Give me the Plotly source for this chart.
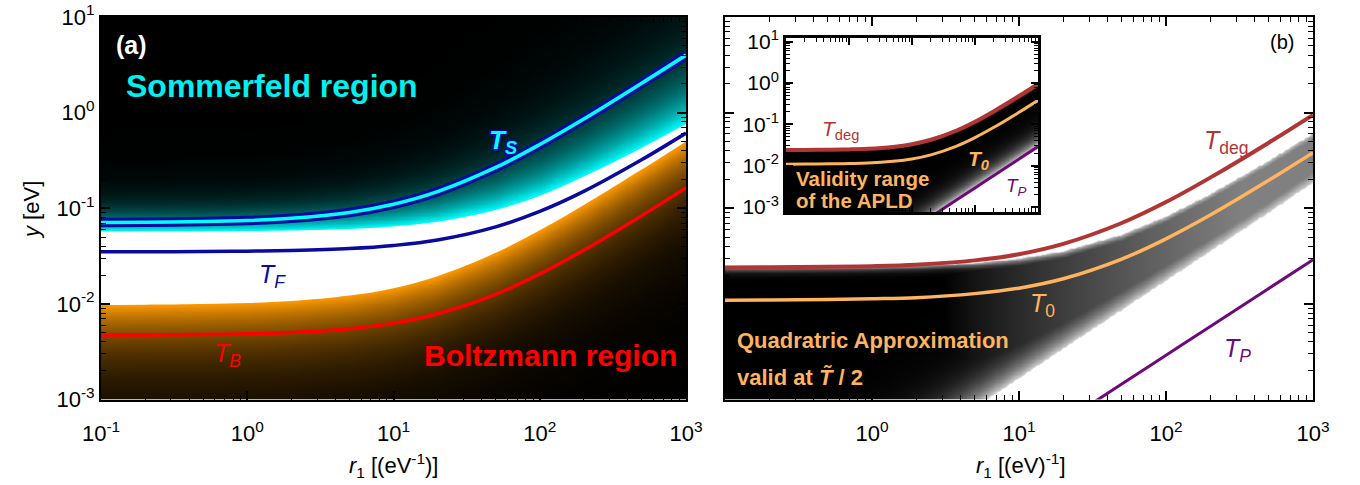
import numpy as np
import plotly.graph_objects as go

FONT = "Liberation Sans, Arial, Helvetica, sans-serif"

# ---- data -------------------------------------------------------------
r1 = [0.1, 0.2, 0.5, 1, 2, 5, 10, 20, 50, 100, 200, 500, 1000]

# panel (a): characteristic temperatures [eV]
T_S = [0.0710, 0.0714, 0.0726, 0.0745, 0.0785, 0.0903, 0.110, 0.149, 0.267, 0.464, 0.857, 2.04, 4.0]
T_F = [0.0350, 0.0351, 0.0353, 0.0356, 0.0362, 0.0379, 0.0408, 0.0465, 0.0638, 0.0926, 0.150, 0.323, 0.611]
T_B = [0.00472, 0.00473, 0.00478, 0.00486, 0.00502, 0.00550, 0.00629, 0.00788, 0.0126, 0.0206, 0.0365, 0.0842, 0.164]
# edges of the Sommerfeld (upper) and Boltzmann (lower) regions
sommerfeld_edge = [0.0571, 0.0571, 0.0573, 0.0577, 0.0585, 0.0607, 0.0645, 0.0722, 0.0960, 0.135, 0.215, 0.430, 0.760]
boltzmann_edge = [0.00975, 0.00980, 0.00995, 0.0102, 0.0107, 0.0122, 0.0146, 0.0195, 0.0342, 0.0587, 0.108, 0.255, 0.50]

# panel (b)
T_deg = [0.0240, 0.0241, 0.0244, 0.0248, 0.0257, 0.0285, 0.0331, 0.0424, 0.0701, 0.116, 0.209, 0.485, 0.947]
T_0 = [0.0109, 0.0110, 0.0111, 0.0113, 0.0116, 0.0128, 0.0146, 0.0183, 0.0294, 0.0479, 0.0849, 0.196, 0.381]
T_P = [2.9e-6, 5.8e-6, 1.45e-5, 2.9e-5, 5.8e-5, 1.45e-4, 2.9e-4, 5.8e-4, 1.45e-3, 2.9e-3, 5.8e-3, 0.0145, 0.029]
# band where the quadratic approximation holds
quad_upper = [0.0240, 0.0240, 0.0242, 0.0245, 0.0251, 0.0268, 0.0297, 0.0355, 0.0529, 0.0819, 0.140, 0.314, 0.604]
quad_lower = [1.5e-5, 3.1e-5, 7.8e-5, 1.6e-4, 3.2e-4, 8.2e-4, 1.67e-3, 3.4e-3, 8.6e-3, 0.0175, 0.0355, 0.090, 0.185]

x_tickvals = [0.1, 1, 10, 100, 1000]
x_ticktext_a = ["10<sup>-1</sup>", "10<sup>0</sup>", "10<sup>1</sup>", "10<sup>2</sup>", "10<sup>3</sup>"]
x_ticktext_b = ["", "10<sup>0</sup>", "10<sup>1</sup>", "10<sup>2</sup>", "10<sup>3</sup>"]
y_tickvals = [1e-3, 1e-2, 1e-1, 1, 10]
y_ticktext = ["10<sup>-3</sup>", "10<sup>-2</sup>", "10<sup>-1</sup>", "10<sup>0</sup>", "10<sup>1</sup>"]

# ---- colours ----------------------------------------------------------
DARK_BLUE = "#0a0a9c"
CYAN = "#00ffff"
RED = "#ff0000"
BRICK = "#b03535"
LIGHT_ORANGE = "#ffb45f"
PURPLE = "#6e0a78"


def on_grid(xq, xs, ys):
    """log-log lookup of a tabulated curve at the heatmap columns"""
    return np.interp(np.log10(xq), np.log10(xs), np.log10(ys))


# ---- panel (a) shading --------------------------------------------------
gx = np.logspace(-1, 3, 560)
gy = np.logspace(-3, 1, 480)
LX = np.log10(gx)[None, :]
LY = np.log10(gy)[:, None]

lW = on_grid(gx, r1, sommerfeld_edge)[None, :]
lO = on_grid(gx, r1, boltzmann_edge)[None, :]
lS = on_grid(gx, r1, T_S)[None, :]

u = LY - lW                      # decades above the Sommerfeld edge
d = lO - LY                      # decades below the Boltzmann edge
glow = 0.12 + 0.45 * (lS - lW)
cyan_part = np.exp(-np.clip(u, 0, None) / glow)
orange_part = -np.exp(-np.clip(d, 0, None) / 0.45)
# the white band in between is painted by a filled trace on top
za = np.where(LY > 0.5 * (lW + lO), cyan_part, orange_part)

scale_a = [[0.0, "rgb(255,155,0)"], [0.5, "rgb(0,0,0)"], [1.0, "rgb(0,255,255)"]]

# ---- panel (b) shading --------------------------------------------------
lU = on_grid(gx, r1, quad_upper)[None, :]
lL = on_grid(gx, r1, quad_lower)[None, :]
d_top = lU - LY
d_bot = LY - lL
base = 0.5 * np.clip((LX - 0.5) / 2.0, 0, 1) ** 0.8
wt = 0.03 + 0.1 * np.clip((LX - 0.5) / 2.5, 0, 1)
zb = np.maximum.reduce([base + 0 * LY,
                        0.82 * np.exp(-d_bot / 0.22),
                        0.78 * np.exp(-d_top / wt)])
zb = np.where((d_top > 0) & (d_bot > 0), zb, np.nan)

# ---- inset shading ------------------------------------------------------
gxi = np.logspace(-1, 3, 320)
gyi = np.logspace(-3.2, 1.1, 260)
LXI = np.log10(gxi)[None, :]
LYI = np.log10(gyi)[:, None]
lD = on_grid(gxi, r1, T_deg)[None, :]
lP = on_grid(gxi, r1, T_P)[None, :]
di_top = lD - LYI
di_p = LYI - lP
zi = np.maximum(0.9 * np.exp(-di_p / 0.22),
                0.7 * np.exp(-di_top / 0.04) * np.clip((LXI - 1) / 1.5, 0, 1))
zi = np.where((di_top > 0) & (di_p > 0), zi, np.nan)

grey = [[0, "rgb(0,0,0)"], [1, "rgb(255,255,255)"]]

fig = go.Figure()

fig.add_trace(go.Heatmap(x=gx, y=gy, z=za.astype(np.float32), colorscale=scale_a, zmin=-1, zmax=1,
                         showscale=False, hoverinfo="skip", xaxis="x", yaxis="y"))
fig.add_trace(go.Heatmap(x=gx, y=gy, z=zb.astype(np.float32), colorscale=grey, zmin=0, zmax=1,
                         showscale=False, hoverinfo="skip", xaxis="x2", yaxis="y2"))
fig.add_trace(go.Heatmap(x=gxi, y=gyi, z=zi.astype(np.float32), colorscale=grey, zmin=0, zmax=1,
                         showscale=False, hoverinfo="skip", xaxis="x3", yaxis="y3"))

# white band between the two regions of panel (a)
fig.add_trace(go.Scatter(x=r1, y=boltzmann_edge, mode="lines", hoverinfo="skip", showlegend=False,
                         line=dict(width=0, shape="spline", color="white"), xaxis="x", yaxis="y"))
fig.add_trace(go.Scatter(x=r1, y=sommerfeld_edge, mode="lines", hoverinfo="skip", showlegend=False,
                         fill="tonexty", fillcolor="white",
                         line=dict(width=0, shape="spline", color="white"), xaxis="x", yaxis="y"))


def curve(y, color, width, xa, ya):
    fig.add_trace(go.Scatter(x=r1, y=y, mode="lines", hoverinfo="skip", showlegend=False,
                             line=dict(color=color, width=width, shape="spline", smoothing=1.0),
                             xaxis=xa, yaxis=ya))


# panel (a) curves
curve(T_B, RED, 3.5, "x", "y")
curve(T_F, DARK_BLUE, 3.5, "x", "y")
curve(T_S, DARK_BLUE, 9.5, "x", "y")
curve(T_S, CYAN, 3.5, "x", "y")
# panel (b) curves
curve(T_P, PURPLE, 3, "x2", "y2")
curve(T_0, LIGHT_ORANGE, 3.5, "x2", "y2")
curve(T_deg, BRICK, 4, "x2", "y2")
# inset curves
curve(T_P, PURPLE, 3, "x3", "y3")
curve(T_0, LIGHT_ORANGE, 3, "x3", "y3")
curve(T_deg, BRICK, 4, "x3", "y3")


def minor_vals(lo, hi):
    return [k * 10.0 ** e for e in range(lo, hi) for k in range(2, 10)]


def log_axis(domain, rng, tickvals, ticktext, minors, anchor, labels=True, lw=2, ticklen=9,
             size=22, standoff=0):
    return dict(type="log", domain=domain, range=rng, anchor=anchor,
                showgrid=False, zeroline=False, showline=True, linecolor="black",
                linewidth=lw, mirror="ticks", ticks="inside", ticklen=ticklen,
                tickwidth=1.5, tickcolor="black", tickmode="array",
                tickvals=tickvals, ticktext=ticktext, showticklabels=labels,
                ticklabelstandoff=standoff,
                tickfont=dict(size=size, color="black", family=FONT),
                minor=dict(ticks="inside", ticklen=ticklen * 0.55, tickwidth=1.2,
                           tickcolor="black", tickmode="array", tickvals=minors,
                           showgrid=False))


W, H = 1360, 485


def px(x):
    return x / W


def py(y):
    return 1 - y / H


ydom = [py(399.5), py(17)]
fig.update_layout(
    width=W, height=H, autosize=False,
    margin=dict(l=0, r=0, t=0, b=0, autoexpand=False),
    paper_bgcolor="white", plot_bgcolor="white",
    showlegend=False,
    font=dict(family=FONT, color="black"),
    xaxis=log_axis([px(101), px(686)], [-1, 3], x_tickvals, x_ticktext_a, minor_vals(-1, 3), "y",
                   standoff=13),
    yaxis=log_axis(ydom, [-3, 1], y_tickvals, y_ticktext, minor_vals(-3, 1), "x"),
    xaxis2=log_axis([px(725), px(1313)], [-1, 3], x_tickvals, x_ticktext_b, minor_vals(-1, 3), "y2",
                    standoff=13),
    yaxis2=log_axis(ydom, [-3, 1], y_tickvals, y_ticktext, minor_vals(-3, 1), "x2", labels=False),
    xaxis3=log_axis([px(786), px(1038)], [-1, 3], x_tickvals, x_ticktext_b, minor_vals(-1, 3), "y3",
                    labels=False, lw=3, ticklen=7),
    yaxis3=log_axis([py(212), py(38)], [-3.12, 1.09], y_tickvals, y_ticktext, minor_vals(-3, 1), "x3",
                    lw=3, ticklen=7, size=21),
)

annotations = []


def label(text, x, y, size, color, xanchor="center", angle=0, shadow=None):
    f = dict(size=size, color=color, family=FONT)
    if shadow:
        f["shadow"] = shadow
    annotations.append(dict(text=text, x=px(x), y=py(y), xref="paper", yref="paper",
                            xanchor=xanchor, yanchor="middle", showarrow=False,
                            textangle=angle, font=f))


outline = ", ".join(f"{a}px {b}px 0 {DARK_BLUE}" for a in (-1.5, 1.5) for b in (-1.5, 1.5))

# panel (a)
label("<b>(a)</b>", 131, 45, 25, "white")
label("<b>Sommerfeld region</b>", 272, 86, 32, "#00f0f0")
label("<b><i>T</i><sub><i>S</i></sub></b>", 503, 141, 26, CYAN, shadow=outline)
label("<i>T</i><sub><i>F</i></sub>", 272, 276, 25, DARK_BLUE)
label("<i>T</i><sub><i>B</i></sub>", 228, 355, 25, RED)
label("<b>Boltzmann region</b>", 550, 355, 30, RED)
label("<i>y</i> [eV]", 31, 210, 22, "black", angle=-90)
label("<i>r</i><sub>1</sub> [(eV<sup>-1</sup>)]", 394, 465, 22, "black")

# panel (b)
label("(b)", 1282, 42, 20, "black")
label("<i>T</i><sub>deg</sub>", 1226, 142, 25, BRICK)
label("<i>T</i><sub>0</sub>", 1042, 305, 25, LIGHT_ORANGE)
label("<i>T</i><sub><i>P</i></sub>", 1237, 350, 25, PURPLE)
label("<b>Quadratric Approximation</b>", 735, 340, 22, LIGHT_ORANGE, xanchor="left")
label("<b>valid at <i>T\u0303</i> / 2</b>", 735, 377, 22, LIGHT_ORANGE, xanchor="left")
label("<i>r</i><sub>1</sub> [(eV)<sup>-1</sup>]", 1021, 465, 22, "black")

# inset
label("<i>T</i><sub>deg</sub>", 840, 130, 21, BRICK)
label("<b><i>T</i><sub><i>0</i></sub></b>", 979, 160, 21, LIGHT_ORANGE)
label("<i>T</i><sub><i>P</i></sub>", 1016, 187, 19, PURPLE)
label("<b>Validity range</b>", 794, 178, 20.5, LIGHT_ORANGE, xanchor="left")
label("<b>of the APLD</b>", 794, 200, 20.5, LIGHT_ORANGE, xanchor="left")

fig.update_layout(annotations=annotations)

# the page body keeps no margin so the figure fills the window exactly
page_reset = ("document.body.style.margin='0';"
              "document.body.style.padding='0';"
              "document.body.style.overflow='hidden';")
fig.write_html("out.html", config={"displayModeBar": False}, post_script=page_reset)
